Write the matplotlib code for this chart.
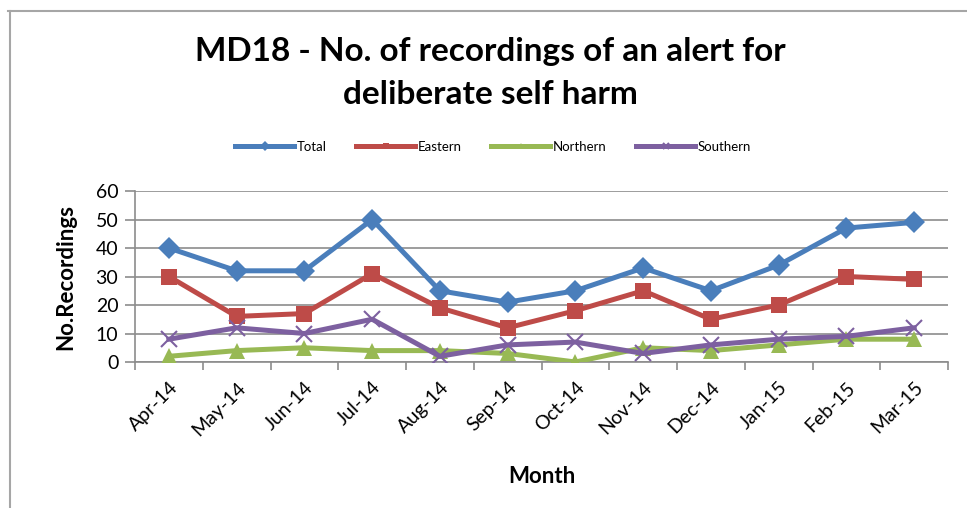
import matplotlib.pyplot as plt
import numpy as np
from matplotlib.lines import Line2D

months = ["Apr-14", "May-14", "Jun-14", "Jul-14", "Aug-14", "Sep-14",
          "Oct-14", "Nov-14", "Dec-14", "Jan-15", "Feb-15", "Mar-15"]
total = [40, 32, 32, 50, 25, 21, 25, 33, 25, 34, 47, 49]
eastern = [30, 16, 17, 31, 19, 12, 18, 25, 15, 20, 30, 29]
northern = [2, 4, 5, 4, 4, 3, 0, 5, 4, 6, 8, 8]
southern = [8, 12, 10, 15, 2, 6, 7, 3, 6, 8, 9, 12]

plt.rcParams["font.family"] = ["Lato", "DejaVu Sans"]

fig = plt.figure(figsize=(9.67, 5.08), dpi=100)
ax = fig.add_axes([0.1396, 0.2874, 0.8408, 0.3366])

x = np.arange(len(months))
series = [
    ("Total", total, "#4A7EBB", "D", 11),
    ("Eastern", eastern, "#BE4B48", "s", 11),
    ("Northern", northern, "#98B954", "^", 11),
    ("Southern", southern, "#7D60A0", "x", 11),
]
for name, vals, col, mk, ms in series:
    kw = dict(markeredgewidth=1.5) if mk == "x" else dict(markeredgewidth=0)
    ax.plot(x, vals, color=col, lw=3.6, marker=mk, markersize=ms,
            label=name, zorder=3, **kw)

ax.set_xlim(-0.5, len(months) - 0.5)
ax.set_ylim(0, 60)
ax.set_yticks(range(0, 61, 10))
ax.yaxis.grid(True, color="#8c8c8c", lw=1.2)
ax.set_axisbelow(True)
for s in ["top", "right"]:
    ax.spines[s].set_visible(False)
for s in ["left", "bottom"]:
    ax.spines[s].set_color("#8c8c8c")
    ax.spines[s].set_linewidth(1.2)

ax.set_xticks(x)
ax.set_xticklabels(months, rotation=45, ha="right", rotation_mode="anchor",
                   fontsize=14)
ax.set_xticks(np.arange(-0.5, len(months)), minor=True)
ax.tick_params(axis="x", which="major", length=0, pad=12)
ax.tick_params(axis="x", which="minor", length=6, color="#8c8c8c", width=1.2)
ax.tick_params(axis="y", length=7, color="#8c8c8c", width=1.2, labelsize=14,
               pad=5)

ax.set_ylabel("No.Recordings", fontsize=16, fontweight="bold", labelpad=14)
ax.set_xlabel("Month", fontsize=16, fontweight="bold", labelpad=20)

fig.text(0.507, 0.898, "MD18 - No. of recordings of an alert for",
         ha="center", va="center", fontsize=24, fontweight="bold")
fig.text(0.507, 0.813, "deliberate self harm", ha="center", va="center",
         fontsize=24, fontweight="bold")

fig.legend(loc="center", bbox_to_anchor=(0.51, 0.711), ncol=4, frameon=False,
           fontsize=9.5, handlelength=4.5, columnspacing=2.2, markerscale=0.45,
           handletextpad=0.2)

# chart border (left and top visible)
fig.add_artist(Line2D([0.008, 1.0], [0.978, 0.978], color="#a6a6a6", lw=1.5))
fig.add_artist(Line2D([0.010, 0.010], [0.0, 0.978], color="#a6a6a6", lw=1.5))

fig.savefig("out.png", dpi=100)
